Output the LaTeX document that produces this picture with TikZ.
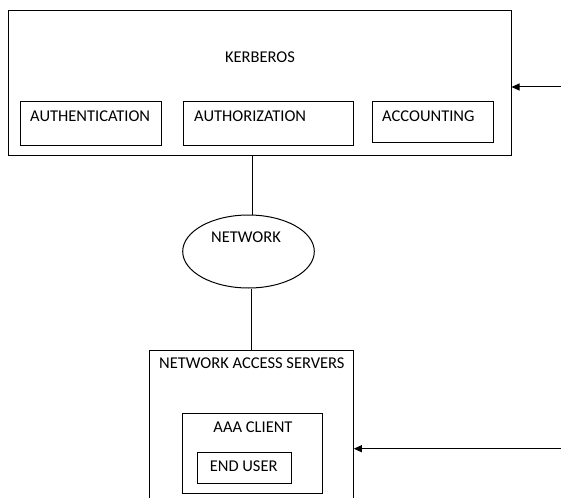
\documentclass[tikz,border=0pt]{standalone}
\usepackage{fontspec}
\setmainfont{Carlito}
\usetikzlibrary{shapes.geometric,arrows.meta}
\begin{document}
\begin{tikzpicture}[x=1pt,y=-1pt,
  box/.style={draw,line width=1pt,rectangle,inner sep=0pt},
  oval/.style={draw,line width=1pt,ellipse,inner sep=0pt},
  lbl/.style={inner sep=0pt,font=\fontsize{16.5}{19}\selectfont},
  conn/.style={line width=1pt},
  arr/.style={line width=1pt,-{Triangle[length=8pt,width=7pt]}}]
\useasboundingbox (0,0) rectangle (561,497);
\clip (0,0) rectangle (561,497);
% Kerberos
\node[box,minimum width=503pt,minimum height=144pt] (kerb) at (259.5,83) {};
\node[lbl,anchor=base] (kerbtxt) at (260,63) {KERBEROS};
\node[box,minimum width=141pt,minimum height=44pt] (auth) at (91,124) {};
\node[lbl,anchor=base west] (authtxt) at (30,122) {AUTHENTICATION};
\node[box,minimum width=170.5pt,minimum height=44pt] (authz) at (268.25,124) {};
\node[lbl,anchor=base west] (authztxt) at (194,122) {AUTHORIZATION};
\node[box,minimum width=120.5pt,minimum height=41pt] (acct) at (432.75,122.5) {};
\node[lbl,anchor=base west] (accttxt) at (382,122) {ACCOUNTING};
% Network
\node[oval,minimum width=131.6pt,minimum height=73pt] (net) at (248.5,251.5) {};
\node[lbl,anchor=base] (nettxt) at (246,242) {NETWORK};
% NAS
\node[box,minimum width=204.3pt,minimum height=170pt] (nas) at (251.15,435) {};
\node[lbl,anchor=base west] (nastxt) at (159,368.5) {NETWORK ACCESS SERVERS};
\node[box,minimum width=140pt,minimum height=80pt] (aaa) at (252.7,453.3) {};
\node[lbl,anchor=base] (aaatxt) at (253,432) {AAA CLIENT};
\node[box,minimum width=94pt,minimum height=30.6pt] (eu) at (244.7,468) {};
\node[lbl,anchor=base] (eutxt) at (243.7,471) {END USER};
% connectors
\draw[conn] (kerb.south -| 252,0) -- (net.north -| 252,0);
\draw[conn] (net.south -| 251,0) -- (nas.north -| 251,0);
\coordinate (in1) at (561,87);
\coordinate (in2) at (561,448.7);
\draw[arr] (in1) -- (kerb.east |- in1);
\draw[arr] (in2) -- (nas.east |- in2);
\end{tikzpicture}
\end{document}
